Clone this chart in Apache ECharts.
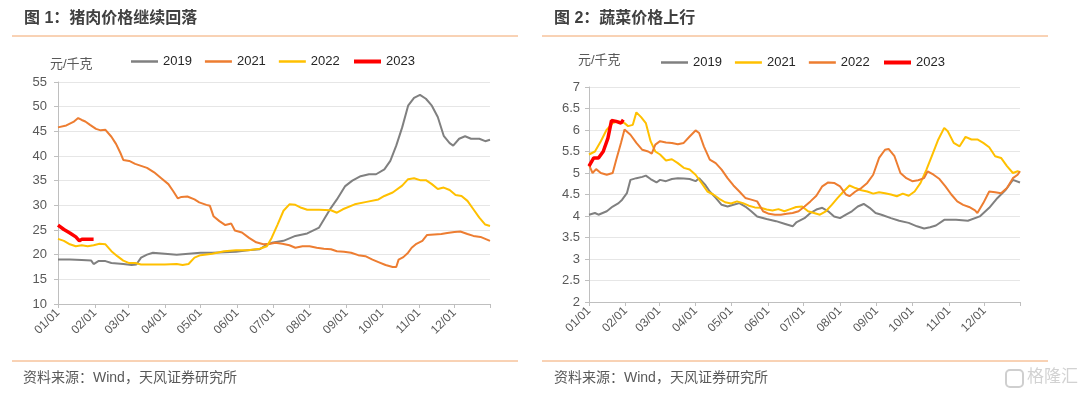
<!DOCTYPE html>
<html>
<head>
<meta charset="utf-8">
<script src="https://cdn.jsdelivr.net/npm/echarts@6/dist/echarts.min.js"></script>
<style>
html,body{margin:0;padding:0;background:#fff;}
#c{width:1080px;height:394px;}
</style>
</head>
<body>
<div id="c"></div>
<script>
// ---- data (x = day index from 01/01, y = price 元/千克) ----
const monthLengths = [31,28,31,30,31,30,31,31,30,31,30,31];
const years = ['2019','2021','2022','2023'];

const pork2019 = [[0,19.0],[10,19.0],[20,18.9],[28,18.8],[30,18.1],[34,18.7],[40,18.7],[45,18.3],[55,18.1],[62,17.9],[66,18.0],[70,19.4],[75,20.0],[80,20.4],[90,20.2],[100,20.0],[110,20.2],[120,20.4],[130,20.4],[140,20.5],[150,20.6],[160,20.9],[170,21.1],[175,21.9],[180,22.4],[190,22.8],[200,23.8],[210,24.3],[220,25.5],[230,29.5],[235,31.2],[242,33.9],[248,35.0],[255,35.9],[262,36.3],[268,36.3],[275,37.3],[280,39.0],[285,42.1],[290,45.8],[295,50.2],[300,51.8],[305,52.4],[310,51.6],[315,50.2],[320,47.9],[325,44.1],[330,42.6],[333,42.1],[338,43.5],[343,44.0],[348,43.5],[355,43.5],[360,43.0],[364,43.3]];
const pork2021 = [[0,45.8],[7,46.2],[13,46.9],[17,47.7],[20,47.3],[23,47.0],[27,46.3],[32,45.5],[36,45.2],[40,45.3],[45,43.9],[49,42.4],[53,40.4],[55,39.2],[60,39.0],[65,38.4],[70,38.0],[75,37.6],[81,36.7],[87,35.5],[93,34.3],[97,32.9],[101,31.4],[104,31.7],[109,31.8],[115,31.2],[119,30.6],[125,30.1],[128,29.9],[131,27.8],[136,26.8],[141,26.0],[146,26.3],[149,24.9],[155,24.5],[161,23.4],[167,22.5],[173,22.1],[179,22.2],[183,22.4],[189,22.2],[195,21.9],[200,21.4],[206,21.7],[212,21.7],[218,21.4],[224,21.2],[230,21.1],[235,20.7],[241,20.6],[247,20.4],[253,19.9],[259,19.7],[265,19.0],[270,18.5],[276,17.9],[282,17.5],[285,17.5],[287,19.0],[291,19.5],[295,20.4],[298,21.4],[302,22.2],[307,22.8],[311,24.0],[317,24.1],[323,24.2],[328,24.4],[334,24.6],[339,24.7],[345,24.2],[350,23.8],[356,23.6],[361,23.1],[364,22.8]];
const pork2022 = [[0,23.2],[5,22.8],[10,22.1],[15,21.7],[20,21.9],[25,21.7],[30,21.9],[35,22.2],[40,22.1],[45,20.7],[50,19.7],[55,18.8],[60,18.3],[65,18.3],[70,18.0],[80,18.0],[90,18.0],[100,18.1],[105,17.9],[110,18.1],[115,19.4],[120,19.9],[130,20.2],[140,20.7],[150,20.9],[160,20.9],[170,21.2],[176,21.7],[180,23.4],[185,26.1],[190,28.9],[195,30.2],[200,30.1],[205,29.5],[210,29.1],[220,29.1],[230,29.0],[235,28.5],[240,29.2],[250,30.2],[260,30.7],[270,31.2],[275,31.9],[282,32.6],[290,34.0],[295,35.3],[300,35.5],[305,35.1],[310,35.1],[315,34.3],[320,33.3],[325,33.6],[330,33.1],[335,32.1],[340,31.9],[345,30.9],[350,29.2],[355,27.5],[360,26.1],[364,25.8]];
const pork2023 = [[0,26.0],[5,25.1],[10,24.4],[15,23.6],[18,22.8],[20,23.1],[25,23.1],[30,23.1]];

const veg2019 = [[0,4.03],[5,4.07],[8,4.03],[15,4.11],[20,4.22],[25,4.30],[28,4.38],[32,4.53],[35,4.84],[40,4.88],[45,4.91],[48,4.94],[52,4.86],[57,4.78],[60,4.84],[65,4.81],[70,4.86],[75,4.88],[80,4.87],[85,4.86],[90,4.81],[93,4.88],[98,4.73],[102,4.57],[107,4.42],[112,4.26],[117,4.22],[122,4.26],[127,4.30],[132,4.22],[137,4.11],[142,3.99],[150,3.93],[158,3.88],[165,3.82],[172,3.76],[175,3.85],[182,3.95],[187,4.07],[192,4.15],[197,4.19],[202,4.11],[207,3.99],[212,3.95],[217,4.03],[222,4.11],[227,4.22],[232,4.28],[237,4.19],[242,4.07],[247,4.03],[255,3.95],[262,3.89],[270,3.84],[277,3.76],[283,3.71],[288,3.74],[293,3.78],[300,3.91],[310,3.91],[320,3.89],[330,3.99],[338,4.19],[345,4.42],[352,4.61],[358,4.84],[364,4.78]];
const veg2021 = [[0,5.43],[5,5.50],[10,5.74],[15,6.01],[20,6.16],[25,6.20],[30,6.16],[33,6.09],[37,6.12],[40,6.41],[44,6.30],[48,6.16],[52,5.74],[56,5.50],[60,5.43],[65,5.29],[70,5.32],[75,5.23],[80,5.12],[85,5.08],[90,4.96],[95,4.77],[100,4.57],[105,4.50],[110,4.40],[115,4.32],[120,4.29],[125,4.34],[130,4.30],[135,4.24],[140,4.20],[145,4.19],[150,4.15],[155,4.13],[160,4.16],[165,4.11],[170,4.16],[175,4.21],[180,4.22],[185,4.11],[190,4.07],[195,4.03],[200,4.11],[205,4.26],[210,4.42],[215,4.57],[220,4.71],[225,4.65],[230,4.60],[235,4.57],[240,4.52],[245,4.55],[250,4.53],[255,4.50],[260,4.46],[265,4.52],[270,4.47],[275,4.57],[280,4.77],[285,5.08],[290,5.43],[295,5.78],[300,6.05],[303,5.97],[308,5.70],[313,5.62],[318,5.84],[323,5.78],[328,5.78],[333,5.70],[338,5.60],[343,5.39],[348,5.35],[353,5.16],[358,5.00],[362,5.04],[364,5.02]];
const veg2022 = [[0,5.19],[3,5.00],[6,5.09],[10,5.00],[15,4.96],[20,5.00],[23,5.31],[27,5.70],[30,6.01],[35,5.89],[40,5.70],[45,5.54],[50,5.50],[53,5.45],[56,5.66],[60,5.74],[65,5.71],[70,5.70],[75,5.67],[80,5.70],[85,5.85],[90,5.99],[93,5.93],[97,5.62],[102,5.31],[107,5.23],[112,5.08],[117,4.88],[122,4.71],[127,4.57],[132,4.42],[137,4.38],[142,4.34],[147,4.11],[152,4.05],[157,4.03],[162,4.03],[167,4.05],[172,4.07],[177,4.11],[182,4.22],[187,4.34],[192,4.47],[197,4.69],[202,4.78],[207,4.77],[212,4.69],[217,4.50],[220,4.46],[225,4.57],[230,4.65],[235,4.77],[240,4.96],[245,5.35],[250,5.54],[253,5.56],[258,5.39],[263,5.00],[268,4.88],[273,4.81],[278,4.83],[283,4.88],[286,5.04],[291,4.96],[296,4.86],[301,4.69],[306,4.50],[311,4.34],[316,4.26],[321,4.21],[326,4.13],[328,4.07],[333,4.30],[338,4.57],[343,4.55],[348,4.53],[353,4.65],[358,4.88],[362,4.96],[364,5.04]];
const veg2023 = [[0,5.16],[4,5.35],[8,5.35],[12,5.50],[16,5.81],[19,6.22],[23,6.20],[27,6.16],[29,6.24]];

const porkYTicks = {min:10, max:55, interval:5};
const vegYTicks = {min:2, max:7, interval:0.5};

// category axis: every day of the year as MM/DD
const days = [];
monthLengths.forEach((n, m) => {
  for (let d = 1; d <= n; d++) days.push(String(m+1).padStart(2,'0') + '/' + String(d).padStart(2,'0'));
});

const FONT = '"Liberation Sans", Arial, "Noto Sans CJK SC", sans-serif';
const C_GRAY = '#808080', C_ORANGE = '#ED7D31', C_YELLOW = '#FFC000', C_RED = '#FF0000';

function xAxis(gi){
  return {
    type:'category', gridIndex:gi, data:days, boundaryGap:false,
    axisLine:{show:true, lineStyle:{color:'#bfbfbf', width:1}},
    axisTick:{show:true, length:4, lineStyle:{color:'#bfbfbf'},
      interval:(i,v)=> v.endsWith('/01') || i===days.length-1},
    axisLabel:{interval:(i,v)=> v.endsWith('/01'), rotate:45, margin:7,
      fontSize:12, color:'#595959', fontFamily:FONT},
    splitLine:{show:false}
  };
}
function yAxis(gi, t, margin){
  return {
    type:'value', gridIndex:gi, min:t.min, max:t.max, interval:t.interval,
    axisLine:{show:true, lineStyle:{color:'#bfbfbf', width:1}},
    axisTick:{show:true, length:4, lineStyle:{color:'#bfbfbf'}},
    axisLabel:{fontSize:13, color:'#595959', margin:margin, fontFamily:FONT},
    splitLine:{show:true, lineStyle:{color:'#e6e6e6', width:1}}
  };
}
function line(name, gi, data, color, width, z){
  return {name:name, type:'line', xAxisIndex:gi, yAxisIndex:gi, data:data,
    symbol:'none', showSymbol:false, smooth:false, z:z||2,
    lineStyle:{color:color, width:width}, itemStyle:{color:color}};
}
function legend(left, top, prefix, names, h){
  return {
    left:left, top:top, icon:'rect', itemWidth:27, itemHeight:h, itemGap:13,
    data:names.map(n=>prefix+n),
    formatter:n=>n.slice(1),
    textStyle:{fontSize:13, color:'#262626', fontFamily:FONT},
    selectedMode:false
  };
}

const chart = echarts.init(document.getElementById('c'), null, {renderer:'canvas'});
chart.setOption({
  animation:false,
  backgroundColor:'#ffffff',
  grid:[
    {left:58, top:82, width:432, height:222, containLabel:false},
    {left:589, top:87, width:431, height:215, containLabel:false}
  ],
  xAxis:[xAxis(0), xAxis(1)],
  yAxis:[yAxis(0, porkYTicks, 11), yAxis(1, vegYTicks, 9)],
  legend:[
    legend(126, 50, 'L', years.slice(0,3), 2.5),
    legend(349, 50, 'L', years.slice(3), 4),
    legend(656, 51, 'R', years.slice(0,3), 2.5),
    legend(879, 51, 'R', years.slice(3), 4)
  ],
  series:[
    line('L2019',0,pork2019,C_GRAY,2),
    line('L2021',0,pork2021,C_ORANGE,2),
    line('L2022',0,pork2022,C_YELLOW,2),
    line('L2023',0,pork2023,C_RED,3.5,5),
    line('R2019',1,veg2019,C_GRAY,2),
    line('R2021',1,veg2021,C_YELLOW,2),
    line('R2022',1,veg2022,C_ORANGE,2),
    line('R2023',1,veg2023,C_RED,3.5,5)
  ],
  graphic:[
    {type:'text', left:24, top:11, style:{text:'图 1：猪肉价格继续回落', fontSize:16, fontWeight:'bold', fill:'#404040', fontFamily:FONT}},
    {type:'text', left:554, top:11, style:{text:'图 2：蔬菜价格上行', fontSize:16, fontWeight:'bold', fill:'#404040', fontFamily:FONT}},
    {type:'line', shape:{x1:12, y1:36, x2:518, y2:36}, style:{stroke:'#F2A56B', lineWidth:1}},
    {type:'line', shape:{x1:542, y1:36, x2:1048, y2:36}, style:{stroke:'#F2A56B', lineWidth:1}},
    {type:'line', shape:{x1:12, y1:361, x2:518, y2:361}, style:{stroke:'#F2A56B', lineWidth:1}},
    {type:'line', shape:{x1:542, y1:361, x2:1048, y2:361}, style:{stroke:'#F2A56B', lineWidth:1}},
    {type:'text', left:50, top:58, style:{text:'元/千克', fontSize:13, fill:'#595959', fontFamily:FONT}},
    {type:'text', left:578, top:54, style:{text:'元/千克', fontSize:13, fill:'#595959', fontFamily:FONT}},
    {type:'text', left:23, top:371, style:{text:'资料来源：Wind，天风证券研究所', fontSize:14, fill:'#595959', fontFamily:FONT}},
    {type:'text', left:554, top:371, style:{text:'资料来源：Wind，天风证券研究所', fontSize:14, fill:'#595959', fontFamily:FONT}},
    {type:'rect', shape:{x:1006, y:370, width:17, height:17, r:4}, style:{fill:'none', stroke:'#cfcfcf', lineWidth:2}},
    {type:'text', left:1027, top:369, style:{text:'格隆汇', fontSize:17, fill:'#d2d2d2', fontFamily:FONT}}
  ]
});
</script>
</body>
</html>
